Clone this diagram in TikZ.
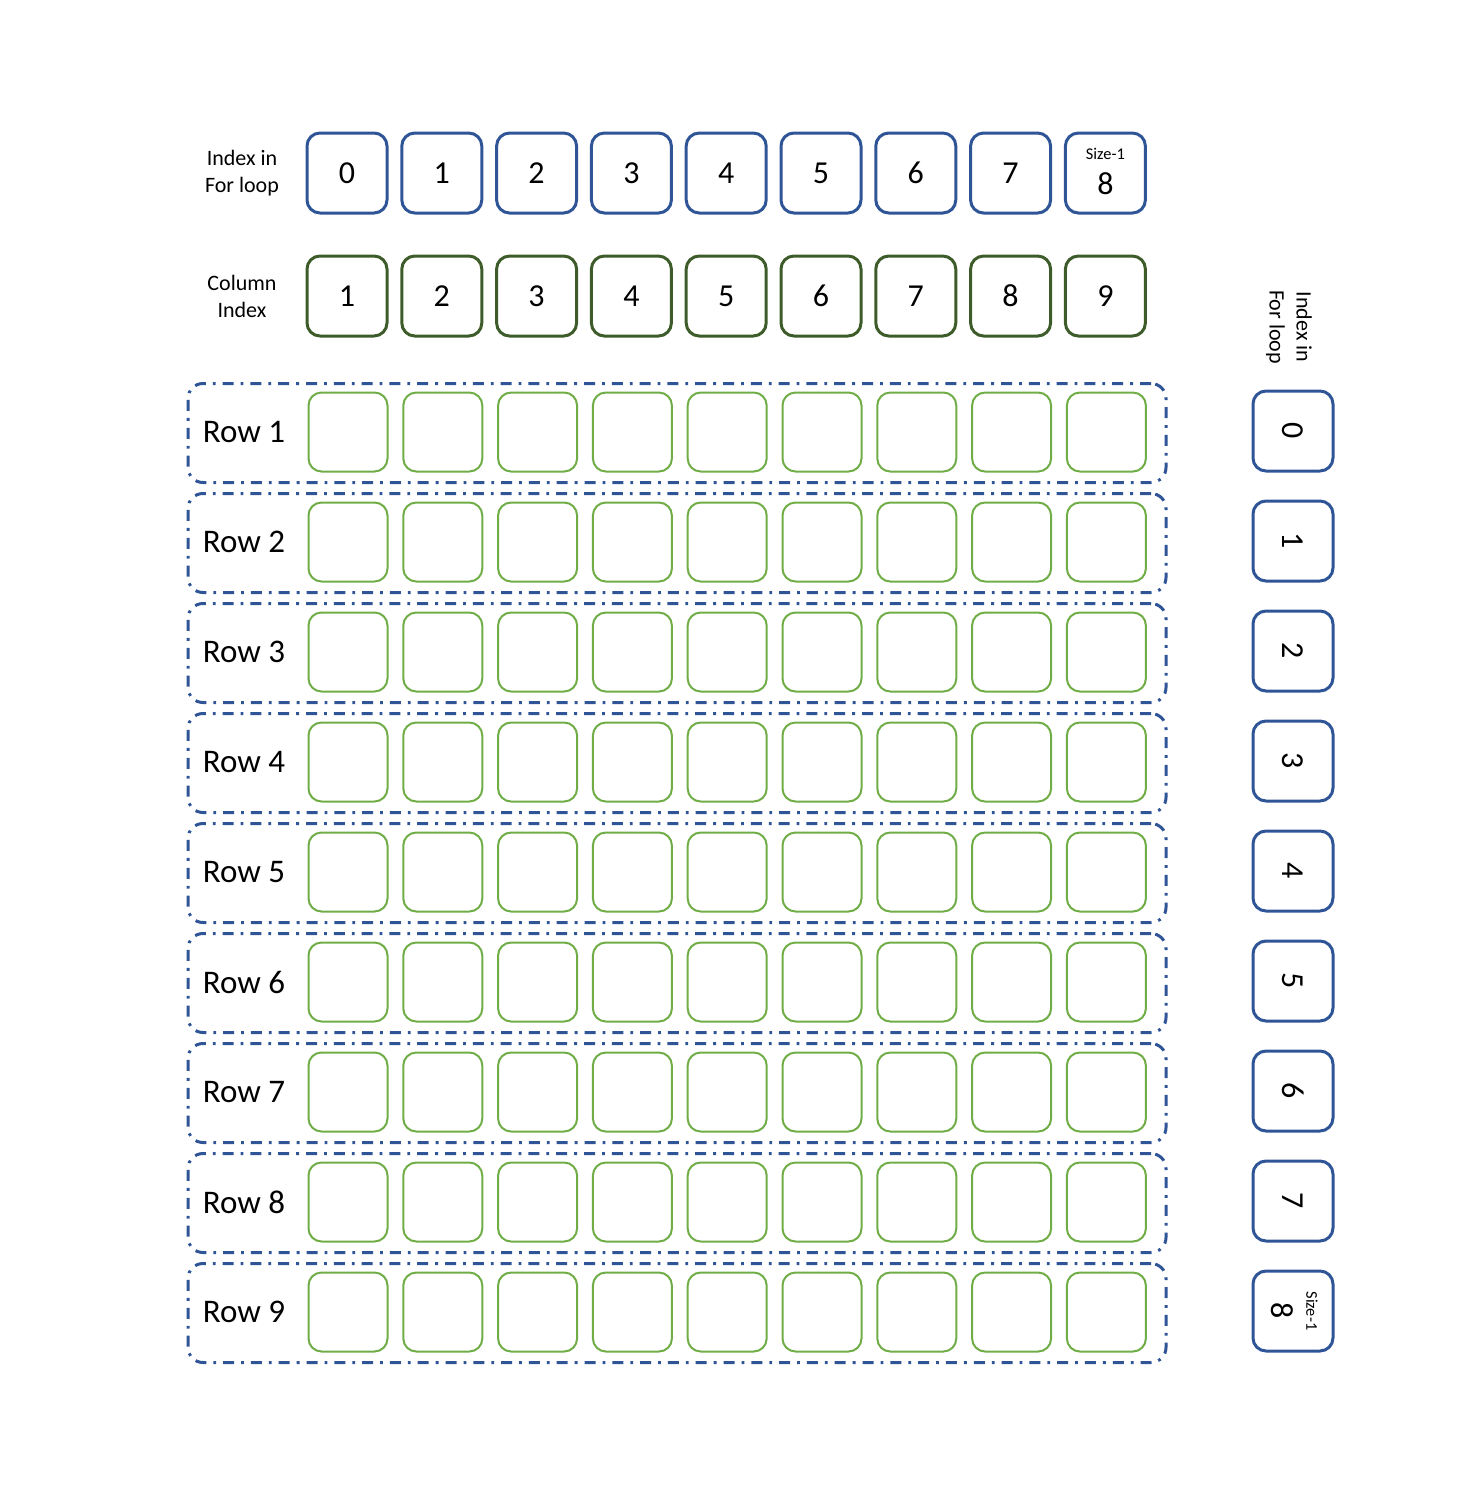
\documentclass[tikz,border=0pt]{standalone}
\usepackage{fontspec}
\setmainfont{Carlito}

\definecolor{idxblue}{HTML}{2F5597}
\definecolor{colgreen}{HTML}{3D5C2A}
\definecolor{cellgreen}{HTML}{70AD47}

\def\pitch{94.8}
\def\rowgap{110}

\tikzset{
  idxbox/.style={draw=idxblue, line width=1.5pt, rounded corners=6.5pt,
    minimum size=40pt, inner sep=0pt, font=\fontsize{16}{16}\selectfont},
  colbox/.style={idxbox, draw=colgreen},
  cellbox/.style={draw=cellgreen, line width=1pt, rounded corners=6.5pt,
    minimum size=39.5pt, inner sep=0pt},
  rowframe/.style={draw=idxblue, line width=1.5pt, rounded corners=7.5pt,
    dash pattern=on 5.5pt off 3.5pt on 1.4pt off 3.5pt,
    minimum width=489pt, minimum height=49.5pt, inner sep=0pt},
  rowlabel/.style={font=\fontsize{16.5}{16.5}\selectfont},
  sidelabel/.style={align=center, font=\fontsize{11}{13.5}\selectfont},
  sizelabel/.style={font=\fontsize{8.2}{8.2}\selectfont},
}

\begin{document}
\begin{tikzpicture}[x=0.5pt, y=-0.5pt]
  \useasboundingbox (0,0) rectangle (1478,1496);
  % header rows
  \node[sidelabel] (idxlabel) at (242,173) {Index in\\For loop};
  \node[sidelabel] (collabel) at (242,296) {Column\\Index};
  \foreach \i in {0,...,8} {
    \pgfmathtruncatemacro\c{\i+1}
    \node[colbox] (col\i) at (347+\pitch*\i,296) {\c};
  }
  \foreach \i in {0,...,7}
    \node[idxbox] (idx\i) at (347+\pitch*\i,173) {\i};
  \node[idxbox] (idx8) at (347+\pitch*8,173) {};
  \node[sizelabel] (size) at ([yshift=9.5pt]idx8.center) {Size-1};
  \node[font=\fontsize{16}{16}\selectfont] (eight) at ([yshift=-5.5pt]idx8.center) {8};
  % rows of cells
  \foreach \r in {1,...,9} {
    \node[rowframe] (row\r) at (677,433+\rowgap*\r-\rowgap) {};
    \node[rowlabel] (rowname\r) at (244,432+\rowgap*\r-\rowgap) {Row \r};
    \foreach \j in {0,...,8}
      \node[cellbox] (cell\r-\j) at (348+\pitch*\j,432+\rowgap*\r-\rowgap) {};
  }
  % index column on the right
  \node[sidelabel, rotate=-90] (sidelabel) at (1289,327) {Index in\\For loop};
  \foreach \i in {0,...,7}
    \node[idxbox, rotate=-90] (side\i) at (1293,431+\rowgap*\i) {\i};
  \node[idxbox] (side8) at (1293,431+\rowgap*8) {};
  \node[sizelabel, rotate=-90] (sidesize) at ([xshift=9.5pt]side8.center) {Size-1};
  \node[font=\fontsize{16}{16}\selectfont, rotate=-90] (sideeight) at ([xshift=-5.5pt]side8.center) {8};
\end{tikzpicture}
\end{document}
